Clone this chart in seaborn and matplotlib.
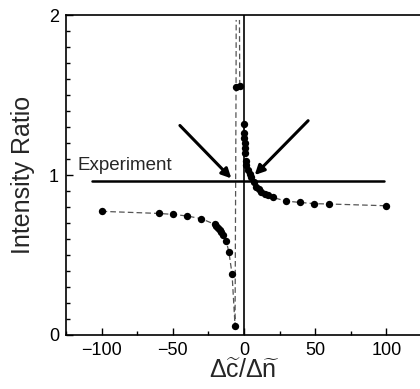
import numpy as np
import pandas as pd
import matplotlib
matplotlib.use("Agg")
import matplotlib.pyplot as plt
import seaborn as sns
from matplotlib.ticker import MultipleLocator

# Calculated intensity ratio vs. dc/dn
left_x = [-100, -60, -50, -40, -30, -20.6, -19.5, -18.3, -17, -16, -14.8, -12.4, -10.6, -8.4, -6.3]
left_y = [0.773, 0.760, 0.754, 0.744, 0.727, 0.692, 0.680, 0.667, 0.655, 0.642, 0.625, 0.585, 0.517, 0.381, 0.056]

upper_x = [-5.6, -3.0]
upper_y = [1.548, 1.560]

right_x = [0.0, 0.1, 0.2, 0.4, 0.6, 0.8, 1.2, 1.7, 2.8, 4.0, 5.2, 6.8, 8.7, 10.3, 12.2, 14.5, 16.9, 20.4,
           29.3, 39.2, 49.2, 59.3, 99.6]
right_y = [1.32, 1.26, 1.23, 1.20, 1.17, 1.14, 1.09, 1.06, 1.03, 1.006, 0.99, 0.956, 0.927, 0.91, 0.896,
           0.884, 0.875, 0.86, 0.837, 0.829, 0.821, 0.819, 0.808]

# dashed theory curve runs off towards the top near the pole
pole_x = [-5.5, -3.2]
pole_top = 1.97

experiment_y = 0.96
experiment_x = [-107, 98]

sns.set_style("ticks")
plt.rcParams["font.family"] = ["Liberation Sans", "DejaVu Sans"]
plt.rcParams["mathtext.fontset"] = "custom"
plt.rcParams["mathtext.rm"] = "Liberation Sans"
plt.rcParams["mathtext.it"] = "Liberation Sans"

fig = plt.figure(figsize=(4.2, 3.89), dpi=100)
ax = fig.add_axes([0.157, 0.139, 0.848, 0.822])

dash = (0, (4.5, 2.5))
# dashed curve, left branch climbing up the pole
dl = pd.DataFrame({"x": left_x + [upper_x[0], pole_x[0]],
                   "y": left_y + [upper_y[0], pole_top]})
sns.lineplot(data=dl, x="x", y="y", sort=False, ax=ax, color="#555555", lw=0.9, linestyle=dash)
dp = pd.DataFrame({"x": [upper_x[1], pole_x[1]], "y": [upper_y[1], pole_top]})
sns.lineplot(data=dp, x="x", y="y", sort=False, ax=ax, color="#555555", lw=0.9, linestyle=dash)
dr = pd.DataFrame({"x": right_x, "y": right_y})
sns.lineplot(data=dr, x="x", y="y", sort=False, ax=ax, color="#555555", lw=0.9, linestyle=dash)

pts = pd.DataFrame({"x": left_x + upper_x + right_x, "y": left_y + upper_y + right_y})
sns.scatterplot(data=pts, x="x", y="y", ax=ax, color="black", s=28,
                edgecolor="black", linewidth=0, zorder=5)

ax.axvline(0, color="black", lw=1.2)
ax.plot(experiment_x, [experiment_y] * 2, color="black", lw=1.8)
ax.text(-117, 1.06, "Experiment", fontsize=13.5, va="center", ha="left")

arrow = dict(arrowstyle="-|>", color="black", lw=2.2, mutation_scale=14, shrinkA=0, shrinkB=0)
ax.annotate("", xy=(-8.9, 0.979), xytext=(-45, 1.31), arrowprops=arrow)
ax.annotate("", xy=(7.5, 1.0), xytext=(45, 1.34), arrowprops=arrow)

ax.set_xlim(-125, 125)
ax.set_ylim(0, 2)
ax.xaxis.set_major_locator(MultipleLocator(50))
ax.xaxis.set_minor_locator(MultipleLocator(25))
ax.yaxis.set_major_locator(MultipleLocator(1))
ax.yaxis.set_minor_locator(MultipleLocator(0.1))
ax.tick_params(which="both", direction="in", bottom=True, left=True, top=False, right=False,
               labelsize=13, width=1, color="black", labelcolor="black")
ax.tick_params(which="major", length=5, pad=5)
ax.tick_params(which="minor", length=3)
for s in ax.spines.values():
    s.set_linewidth(1.2)
    s.set_color("black")
    s.set_visible(True)

ax.set_xlabel(r"$\Delta\widetilde{c}/\Delta\widetilde{n}$", fontsize=18, labelpad=0)
ax.set_ylabel("Intensity Ratio", fontsize=18, labelpad=10)

fig.savefig("out.png", dpi=100)
